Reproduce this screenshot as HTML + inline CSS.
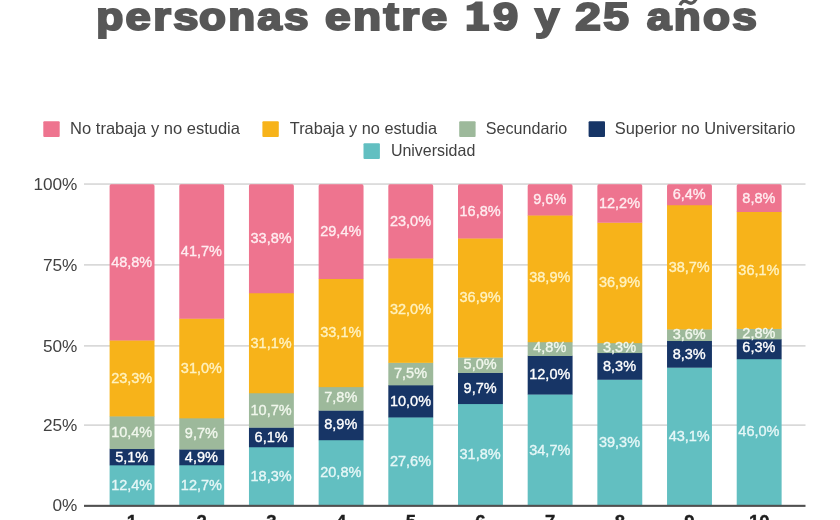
<!DOCTYPE html>
<html><head><meta charset="utf-8"><title>Chart</title>
<style>html,body{margin:0;padding:0;background:#fff;}body{width:840px;height:520px;overflow:hidden;font-family:"Liberation Sans",sans-serif;}svg{display:block;will-change:transform;}text{font-family:"Liberation Sans",sans-serif;}</style>
</head><body>
<svg width="840" height="520" viewBox="0 0 840 520">
<rect x="0" y="0" width="840" height="520" fill="#ffffff"/>
<g font-size="38.6" font-weight="bold" fill="#575757" stroke="#575757" stroke-width="2.1" stroke-linejoin="miter" letter-spacing="2">
<text x="96.2" y="30.0" textLength="29.4" lengthAdjust="spacingAndGlyphs">p</text>
<text x="125.6" y="30.0" textLength="75.1" lengthAdjust="spacingAndGlyphs">ers</text>
<text x="199.0" y="30.0" textLength="111.9" lengthAdjust="spacingAndGlyphs">onas</text>
<text x="324.9" y="30.0" textLength="124.6" lengthAdjust="spacingAndGlyphs">entre</text>
<text x="493.1" y="30.0" textLength="27.5" lengthAdjust="spacingAndGlyphs">9</text>
<text x="535.0" y="30.0" textLength="26.5" lengthAdjust="spacingAndGlyphs">y</text>
<text x="575.2" y="30.0" textLength="56.0" lengthAdjust="spacingAndGlyphs">25</text>
<text x="646.8" y="30.0" textLength="112.4" lengthAdjust="spacingAndGlyphs">anos</text>
</g>
<path d="M482.6 1.6 L482.6 24.4 L489.1 24.4 L489.1 31 L466.7 31 L466.7 24.4 L473.6 24.4 L473.6 10.6 L466.7 10.6 L466.7 5.4 C470.5 5.2 473.6 3.9 475.6 1.6 Z" fill="#575757"/>
<path d="M680.0 5.2 C681.4 0.8 684.6 0.4 687.6 2.2 C690.6 4.0 693.8 3.8 696.4 -1.5" fill="none" stroke="#575757" stroke-width="3.3" stroke-linecap="butt"/>
<g font-size="16.5" fill="#414141">
<rect x="43.3" y="121.2" width="16.4" height="15.8" rx="1" fill="#ee748f"/>
<text x="70.1" y="133.8" textLength="169.9" lengthAdjust="spacingAndGlyphs">No trabaja y no estudia</text>
<rect x="262.4" y="121.2" width="16.4" height="15.8" rx="1" fill="#f7b31a"/>
<text x="289.8" y="133.8" textLength="147.2" lengthAdjust="spacingAndGlyphs">Trabaja y no estudia</text>
<rect x="459.2" y="121.2" width="16.4" height="15.8" rx="1" fill="#9db99b"/>
<text x="485.8" y="133.8" textLength="81.5" lengthAdjust="spacingAndGlyphs">Secundario</text>
<rect x="588.6" y="121.2" width="16.4" height="15.8" rx="1" fill="#173566"/>
<text x="614.7" y="133.8" textLength="180.8" lengthAdjust="spacingAndGlyphs">Superior no Universitario</text>
<rect x="363.5" y="143.2" width="16.4" height="15.8" rx="1" fill="#62bfc1"/>
<text x="390.9" y="155.8" textLength="84.4" lengthAdjust="spacingAndGlyphs">Universidad</text>
</g>
<rect x="84" y="424.45" width="721.5" height="1.3" fill="#cdcdcd"/>
<rect x="84" y="345.25" width="721.5" height="1.3" fill="#cdcdcd"/>
<rect x="84" y="264.25" width="721.5" height="1.3" fill="#cdcdcd"/>
<rect x="84" y="183.40" width="721.5" height="1.3" fill="#cdcdcd"/>
<g font-size="17.2" fill="#414141" text-anchor="end">
<text x="77.4" y="511.4">0%</text>
<text x="77.4" y="430.7">25%</text>
<text x="77.4" y="351.5">50%</text>
<text x="77.4" y="270.5">75%</text>
<text x="77.4" y="189.7">100%</text>
</g>
<rect x="109.60" y="465.03" width="44.9" height="41.07" fill="#62bfc1"/>
<rect x="109.60" y="448.74" width="44.9" height="16.60" fill="#173566"/>
<rect x="109.60" y="416.10" width="44.9" height="32.94" fill="#9db99b"/>
<rect x="109.60" y="340.19" width="44.9" height="76.21" fill="#f7b31a"/>
<path d="M109.60 340.49 L109.60 185.90 Q109.60 184.30 111.20 184.30 L152.90 184.30 Q154.50 184.30 154.50 185.90 L154.50 340.49 Z" fill="#ee748f"/>
<rect x="179.28" y="464.97" width="44.9" height="41.13" fill="#62bfc1"/>
<rect x="179.28" y="449.22" width="44.9" height="16.05" fill="#173566"/>
<rect x="179.28" y="418.03" width="44.9" height="31.49" fill="#9db99b"/>
<rect x="179.28" y="318.37" width="44.9" height="99.97" fill="#f7b31a"/>
<path d="M179.28 318.67 L179.28 185.90 Q179.28 184.30 180.88 184.30 L222.58 184.30 Q224.18 184.30 224.18 185.90 L224.18 318.67 Z" fill="#ee748f"/>
<rect x="248.96" y="446.97" width="44.9" height="59.13" fill="#62bfc1"/>
<rect x="248.96" y="427.35" width="44.9" height="19.91" fill="#173566"/>
<rect x="248.96" y="392.95" width="44.9" height="34.70" fill="#9db99b"/>
<rect x="248.96" y="292.97" width="44.9" height="100.29" fill="#f7b31a"/>
<path d="M248.96 293.27 L248.96 185.90 Q248.96 184.30 250.56 184.30 L292.26 184.30 Q293.86 184.30 293.86 185.90 L293.86 293.27 Z" fill="#ee748f"/>
<rect x="318.64" y="439.93" width="44.9" height="66.17" fill="#62bfc1"/>
<rect x="318.64" y="410.31" width="44.9" height="29.91" fill="#173566"/>
<rect x="318.64" y="386.84" width="44.9" height="23.78" fill="#9db99b"/>
<rect x="318.64" y="278.82" width="44.9" height="108.32" fill="#f7b31a"/>
<path d="M318.64 279.12 L318.64 185.90 Q318.64 184.30 320.24 184.30 L361.94 184.30 Q363.54 184.30 363.54 185.90 L363.54 279.12 Z" fill="#ee748f"/>
<rect x="388.32" y="417.15" width="44.9" height="88.95" fill="#62bfc1"/>
<rect x="388.32" y="385.04" width="44.9" height="32.42" fill="#173566"/>
<rect x="388.32" y="362.55" width="44.9" height="22.79" fill="#9db99b"/>
<rect x="388.32" y="258.17" width="44.9" height="104.68" fill="#f7b31a"/>
<path d="M388.32 258.47 L388.32 185.90 Q388.32 184.30 389.92 184.30 L431.62 184.30 Q433.22 184.30 433.22 185.90 L433.22 258.47 Z" fill="#ee748f"/>
<rect x="458.00" y="403.77" width="44.9" height="102.33" fill="#62bfc1"/>
<rect x="458.00" y="372.64" width="44.9" height="31.42" fill="#173566"/>
<rect x="458.00" y="357.30" width="44.9" height="15.64" fill="#9db99b"/>
<rect x="458.00" y="238.20" width="44.9" height="119.40" fill="#f7b31a"/>
<path d="M458.00 238.50 L458.00 185.90 Q458.00 184.30 459.60 184.30 L501.30 184.30 Q502.90 184.30 502.90 185.90 L502.90 238.50 Z" fill="#ee748f"/>
<rect x="527.68" y="394.24" width="44.9" height="111.86" fill="#62bfc1"/>
<rect x="527.68" y="355.66" width="44.9" height="38.88" fill="#173566"/>
<rect x="527.68" y="341.93" width="44.9" height="14.03" fill="#9db99b"/>
<rect x="527.68" y="215.16" width="44.9" height="127.06" fill="#f7b31a"/>
<path d="M527.68 215.46 L527.68 185.90 Q527.68 184.30 529.28 184.30 L570.98 184.30 Q572.58 184.30 572.58 185.90 L572.58 215.46 Z" fill="#ee748f"/>
<rect x="597.36" y="379.45" width="44.9" height="126.65" fill="#62bfc1"/>
<rect x="597.36" y="352.77" width="44.9" height="26.98" fill="#173566"/>
<rect x="597.36" y="342.86" width="44.9" height="10.21" fill="#9db99b"/>
<rect x="597.36" y="222.52" width="44.9" height="120.63" fill="#f7b31a"/>
<path d="M597.36 222.82 L597.36 185.90 Q597.36 184.30 598.96 184.30 L640.66 184.30 Q642.26 184.30 642.26 185.90 L642.26 222.82 Z" fill="#ee748f"/>
<rect x="667.04" y="367.37" width="44.9" height="138.73" fill="#62bfc1"/>
<rect x="667.04" y="340.71" width="44.9" height="26.96" fill="#173566"/>
<rect x="667.04" y="329.15" width="44.9" height="11.86" fill="#9db99b"/>
<rect x="667.04" y="204.86" width="44.9" height="124.60" fill="#f7b31a"/>
<path d="M667.04 205.16 L667.04 185.90 Q667.04 184.30 668.64 184.30 L710.34 184.30 Q711.94 184.30 711.94 185.90 L711.94 205.16 Z" fill="#ee748f"/>
<rect x="736.72" y="358.91" width="44.9" height="147.19" fill="#62bfc1"/>
<rect x="736.72" y="339.06" width="44.9" height="20.15" fill="#173566"/>
<rect x="736.72" y="328.65" width="44.9" height="10.70" fill="#9db99b"/>
<rect x="736.72" y="211.59" width="44.9" height="117.36" fill="#f7b31a"/>
<path d="M736.72 211.89 L736.72 185.90 Q736.72 184.30 738.32 184.30 L780.02 184.30 Q781.62 184.30 781.62 185.90 L781.62 211.89 Z" fill="#ee748f"/>
<rect x="84" y="504.8" width="721.5" height="2.1" fill="#505050"/>
<g font-size="14.5" text-anchor="middle" stroke-width="0.35">
<text x="131.7" y="490.4" fill="#e6f7f7" stroke="#e6f7f7">12,4%</text>
<text x="131.7" y="462.2" fill="#ffffff" stroke="#ffffff">5,1%</text>
<text x="131.7" y="437.3" fill="#f1f7ed" stroke="#f1f7ed">10,4%</text>
<text x="131.7" y="383.1" fill="#fff2c0" stroke="#fff2c0">23,3%</text>
<text x="131.7" y="267.2" fill="#ffecf0" stroke="#ffecf0">48,8%</text>
<text x="201.4" y="489.9" fill="#e6f7f7" stroke="#e6f7f7">12,7%</text>
<text x="201.4" y="461.6" fill="#ffffff" stroke="#ffffff">4,9%</text>
<text x="201.4" y="438.1" fill="#f1f7ed" stroke="#f1f7ed">9,7%</text>
<text x="201.4" y="372.7" fill="#fff2c0" stroke="#fff2c0">31,0%</text>
<text x="201.4" y="255.8" fill="#ffecf0" stroke="#ffecf0">41,7%</text>
<text x="271.1" y="480.9" fill="#e6f7f7" stroke="#e6f7f7">18,3%</text>
<text x="271.1" y="441.7" fill="#ffffff" stroke="#ffffff">6,1%</text>
<text x="271.1" y="414.7" fill="#f1f7ed" stroke="#f1f7ed">10,7%</text>
<text x="271.1" y="347.5" fill="#fff2c0" stroke="#fff2c0">31,1%</text>
<text x="271.1" y="243.1" fill="#ffecf0" stroke="#ffecf0">33,8%</text>
<text x="340.8" y="476.9" fill="#e6f7f7" stroke="#e6f7f7">20,8%</text>
<text x="340.8" y="429.1" fill="#ffffff" stroke="#ffffff">8,9%</text>
<text x="340.8" y="402.3" fill="#f1f7ed" stroke="#f1f7ed">7,8%</text>
<text x="340.8" y="336.5" fill="#fff2c0" stroke="#fff2c0">33,1%</text>
<text x="340.8" y="236.1" fill="#ffecf0" stroke="#ffecf0">29,4%</text>
<text x="410.5" y="466.0" fill="#e6f7f7" stroke="#e6f7f7">27,6%</text>
<text x="410.5" y="405.6" fill="#ffffff" stroke="#ffffff">10,0%</text>
<text x="410.5" y="377.5" fill="#f1f7ed" stroke="#f1f7ed">7,5%</text>
<text x="410.5" y="314.1" fill="#fff2c0" stroke="#fff2c0">32,0%</text>
<text x="410.5" y="225.7" fill="#ffecf0" stroke="#ffecf0">23,0%</text>
<text x="480.1" y="459.3" fill="#e6f7f7" stroke="#e6f7f7">31,8%</text>
<text x="480.1" y="392.7" fill="#ffffff" stroke="#ffffff">9,7%</text>
<text x="480.1" y="369.1" fill="#f1f7ed" stroke="#f1f7ed">5,0%</text>
<text x="480.1" y="301.9" fill="#fff2c0" stroke="#fff2c0">36,9%</text>
<text x="480.1" y="215.8" fill="#ffecf0" stroke="#ffecf0">16,8%</text>
<text x="549.8" y="454.5" fill="#e6f7f7" stroke="#e6f7f7">34,7%</text>
<text x="549.8" y="379.4" fill="#ffffff" stroke="#ffffff">12,0%</text>
<text x="549.8" y="352.4" fill="#f1f7ed" stroke="#f1f7ed">4,8%</text>
<text x="549.8" y="282.2" fill="#fff2c0" stroke="#fff2c0">38,9%</text>
<text x="549.8" y="204.2" fill="#ffecf0" stroke="#ffecf0">9,6%</text>
<text x="619.5" y="447.1" fill="#e6f7f7" stroke="#e6f7f7">39,3%</text>
<text x="619.5" y="370.6" fill="#ffffff" stroke="#ffffff">8,3%</text>
<text x="619.5" y="352.0" fill="#f1f7ed" stroke="#f1f7ed">3,3%</text>
<text x="619.5" y="287.3" fill="#fff2c0" stroke="#fff2c0">36,9%</text>
<text x="619.5" y="208.4" fill="#ffecf0" stroke="#ffecf0">12,2%</text>
<text x="689.2" y="441.1" fill="#e6f7f7" stroke="#e6f7f7">43,1%</text>
<text x="689.2" y="358.5" fill="#ffffff" stroke="#ffffff">8,3%</text>
<text x="689.2" y="339.4" fill="#f1f7ed" stroke="#f1f7ed">3,6%</text>
<text x="689.2" y="271.5" fill="#fff2c0" stroke="#fff2c0">38,7%</text>
<text x="689.2" y="199.1" fill="#ffecf0" stroke="#ffecf0">6,4%</text>
<text x="758.9" y="436.4" fill="#e6f7f7" stroke="#e6f7f7">46,0%</text>
<text x="758.9" y="352.3" fill="#ffffff" stroke="#ffffff">6,3%</text>
<text x="758.9" y="337.7" fill="#f1f7ed" stroke="#f1f7ed">2,8%</text>
<text x="758.9" y="275.1" fill="#fff2c0" stroke="#fff2c0">36,1%</text>
<text x="758.9" y="202.9" fill="#ffecf0" stroke="#ffecf0">8,8%</text>
</g>
<g font-size="18.5" font-weight="bold" fill="#1f1f1f" stroke="#1f1f1f" stroke-width="0.4" text-anchor="middle">
<text x="132.0" y="528.4">1</text>
<text x="201.7" y="528.4">2</text>
<text x="271.4" y="528.4">3</text>
<text x="341.1" y="528.4">4</text>
<text x="410.8" y="528.4">5</text>
<text x="480.4" y="528.4">6</text>
<text x="550.1" y="528.4">7</text>
<text x="619.8" y="528.4">8</text>
<text x="689.5" y="528.4">9</text>
<text x="759.2" y="528.4">10</text>
</g>
</svg>
</body></html>
